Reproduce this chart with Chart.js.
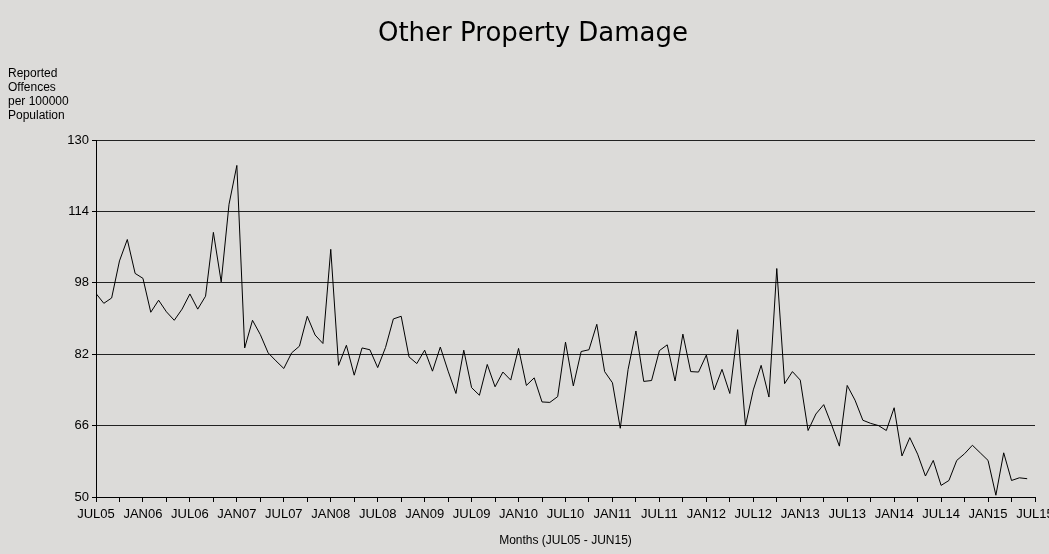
<!DOCTYPE html>
<html>
<head>
<meta charset="utf-8">
<script src="https://cdn.jsdelivr.net/npm/chart.js@4.4.1/dist/chart.umd.min.js"></script>
<style>
html,body{margin:0;padding:0;background:#dcdbd9;}
#wrap{width:1049px;height:554px;position:relative;}
</style>
</head>
<body>
<div id="wrap"><canvas id="c"></canvas></div>
<script>
const chartTitle = 'Other Property Damage';
const yAxisTitle = ['Reported', 'Offences', 'per 100000', 'Population'];
const xAxisTitle = 'Months (JUL05 - JUN15)';
const tickLabels = ['JUL05','JAN06','JUL06','JAN07','JUL07','JAN08','JUL08','JAN09','JUL09','JAN10','JUL10','JAN11','JUL11','JAN12','JUL12','JAN13','JUL13','JAN14','JUL14','JAN15','JUL15'];
const yTicks = [50, 66, 82, 98, 114, 130];
// Monthly values JUL05 .. JUN15
const values = [
  95.6, 93.4, 94.6, 102.9, 107.7, 100.1, 99.0, 91.4, 94.1, 91.5, 89.6, 92.1,
  95.5, 92.1, 95.0, 109.3, 98.2, 115.6, 124.3, 83.4, 89.6, 86.4, 82.3, 80.5,
  78.8, 82.3, 83.8, 90.5, 86.3, 84.4, 105.5, 79.5, 84.0, 77.3, 83.4, 83.0,
  79.0, 83.5, 89.9, 90.5, 81.4, 79.9, 82.9, 78.2, 83.6, 78.2, 73.2, 82.9,
  74.5, 72.8, 79.7, 74.7, 78.0, 76.2, 83.3, 75.0, 76.7, 71.3, 71.2, 72.5,
  84.7, 74.9, 82.6, 83.0, 88.7, 78.1, 75.6, 65.4, 78.6, 87.2, 75.9, 76.1,
  82.8, 84.1, 76.0, 86.5, 78.1, 78.0, 81.8, 74.0, 78.6, 73.2, 87.5, 66.0,
  74.0, 79.5, 72.4, 101.2, 75.4, 78.1, 76.2, 64.9, 68.6, 70.7, 66.2, 61.4,
  75.0, 71.7, 67.2, 66.5, 66.0, 64.9, 70.0, 59.2, 63.3, 59.6, 54.7, 58.2,
  52.6, 53.7, 58.2, 59.7, 61.6, 59.9, 58.2, 50.4, 59.9, 53.7, 54.3, 54.1
];

const narrow = "'Liberation Sans Narrow', 'Liberation Sans', Arial, sans-serif";

const bgPlugin = {
  id: 'bg',
  beforeDraw(chart) {
    const ctx = chart.ctx;
    ctx.save();
    ctx.fillStyle = '#dcdbd9';
    ctx.fillRect(0, 0, chart.width, chart.height);
    ctx.restore();
  }
};

const textPlugin = {
  id: 'texts',
  afterDraw(chart) {
    const ctx = chart.ctx;
    ctx.save();
    ctx.fillStyle = '#000';
    ctx.font = "26px 'DejaVu Sans', sans-serif";
    ctx.textAlign = 'center';
    ctx.textBaseline = 'middle';
    ctx.fillText(chartTitle, 533, 34);
    ctx.font = "12px " + narrow;
    ctx.textAlign = 'left';
    yAxisTitle.forEach((t, i) => ctx.fillText(t, 8, 74 + i * 14));
    ctx.restore();
  }
};

new Chart(document.getElementById('c'), {
  type: 'line',
  data: {
    datasets: [{
      data: values.map((v, i) => ({ x: i, y: v })),
      borderColor: '#000',
      borderWidth: 1,
      pointRadius: 0,
      tension: 0,
      fill: false
    }]
  },
  plugins: [bgPlugin, textPlugin],
  options: {
    responsive: true,
    maintainAspectRatio: false,
    animation: false,
    layout: { padding: { top: 140, right: 14, left: 0, bottom: 0 } },
    plugins: { legend: { display: false }, tooltip: { enabled: false }, title: { display: false } },
    scales: {
      x: {
        type: 'linear',
        min: 0,
        max: 120,
        afterBuildTicks(scale) {
          const t = [];
          for (let v = 0; v <= 120; v += 3) t.push({ value: v });
          scale.ticks = t;
        },
        afterFit(scale) { scale.height = 57; scale.paddingLeft = 0; scale.paddingRight = 0; },
        ticks: {
          autoSkip: false,
          maxRotation: 0,
          minRotation: 0,
          padding: 5,
          color: '#000',
          font: { family: narrow, size: 13 },
          callback: (v) => (v % 6 === 0 ? tickLabels[v / 6] : '')
        },
        grid: { drawOnChartArea: false, drawTicks: true, tickLength: 5, tickColor: '#000' },
        border: { display: true, color: '#000', width: 1 },
        title: {
          display: true,
          text: xAxisTitle,
          color: '#000',
          font: { family: narrow, size: 12 },
          padding: { top: 2, bottom: 6 }
        }
      },
      y: {
        type: 'linear',
        min: 50,
        max: 130,
        afterBuildTicks(scale) { scale.ticks = yTicks.map(v => ({ value: v })); },
        afterFit(scale) { scale.width = 96; },
        ticks: {
          padding: 3,
          color: '#000',
          font: { family: narrow, size: 13 }
        },
        grid: { color: '#222', lineWidth: 1, drawTicks: true, tickLength: 4, tickColor: '#000' },
        border: { display: true, color: '#000', width: 1 }
      }
    }
  }
});
</script>
</body>
</html>
